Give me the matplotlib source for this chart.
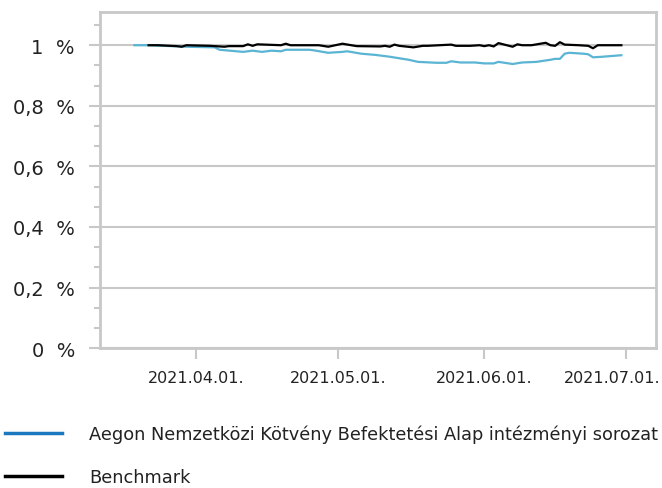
import matplotlib.pyplot as plt
from matplotlib.lines import Line2D
from matplotlib.ticker import MultipleLocator, FixedFormatter, FixedLocator
from matplotlib.transforms import ScaledTranslation
import pandas as pd

# Fund (intézményi sorozat) values
fund_dates = ['2021-03-19', '2021-03-22', '2021-03-30', '2021-04-05', '2021-04-06',
              '2021-04-11', '2021-04-13', '2021-04-15', '2021-04-17', '2021-04-19',
              '2021-04-20', '2021-04-25', '2021-04-26', '2021-04-29', '2021-05-02',
              '2021-05-03', '2021-05-06', '2021-05-09', '2021-05-12', '2021-05-16',
              '2021-05-18', '2021-05-22', '2021-05-24', '2021-05-25', '2021-05-27',
              '2021-05-30', '2021-06-01', '2021-06-03', '2021-06-04', '2021-06-07',
              '2021-06-09', '2021-06-12', '2021-06-15', '2021-06-16', '2021-06-17',
              '2021-06-18', '2021-06-19', '2021-06-22', '2021-06-23', '2021-06-24',
              '2021-06-26', '2021-06-30']
fund_values = [1.000, 1.000, 0.995, 0.993, 0.985,
               0.978, 0.982, 0.978, 0.982, 0.980,
               0.985, 0.985, 0.983, 0.975, 0.978,
               0.980, 0.972, 0.968, 0.962, 0.952,
               0.945, 0.942, 0.942, 0.947, 0.943,
               0.943, 0.940, 0.940, 0.945, 0.938,
               0.943, 0.945, 0.952, 0.955, 0.955,
               0.972, 0.975, 0.972, 0.970, 0.960,
               0.962, 0.967]

# Benchmark values
bench_dates = ['2021-03-22', '2021-03-24', '2021-03-28', '2021-03-29', '2021-03-30',
               '2021-04-04', '2021-04-07', '2021-04-08', '2021-04-11', '2021-04-12',
               '2021-04-13', '2021-04-14', '2021-04-19', '2021-04-20', '2021-04-21',
               '2021-04-27', '2021-04-29', '2021-05-02', '2021-05-05', '2021-05-10',
               '2021-05-11', '2021-05-12', '2021-05-13', '2021-05-14', '2021-05-17',
               '2021-05-19', '2021-05-20', '2021-05-25', '2021-05-26', '2021-05-29',
               '2021-05-31', '2021-06-01', '2021-06-02', '2021-06-03', '2021-06-04',
               '2021-06-07', '2021-06-08', '2021-06-09', '2021-06-11', '2021-06-14',
               '2021-06-15', '2021-06-16', '2021-06-17', '2021-06-18', '2021-06-21',
               '2021-06-23', '2021-06-24', '2021-06-25', '2021-06-30']
bench_values = [1.000, 1.000, 0.997, 0.995, 1.000,
                0.998, 0.995, 0.997, 0.997, 1.003,
                0.998, 1.003, 1.000, 1.005, 1.000,
                1.000, 0.995, 1.005, 0.997, 0.996,
                0.998, 0.995, 1.002, 0.998, 0.993,
                0.998, 0.998, 1.002, 0.998, 0.998,
                1.000, 0.997, 1.000, 0.996, 1.007,
                0.995, 1.003, 1.000, 1.000, 1.008,
                1.000, 0.998, 1.010, 1.002, 1.000,
                0.998, 0.990, 1.000, 1.000]

y_ticks = [0, 0.2, 0.4, 0.6, 0.8, 1.0]
y_labels = ['0  %', '0,2  %', '0,4  %', '0,6  %', '0,8  %', '1  %']
x_ticks = ['2021-04-01', '2021-05-01', '2021-06-01', '2021-07-01']
x_labels = ['2021.04.01.', '2021.05.01.', '2021.06.01.', '2021.07.01.']

fund_name = 'Aegon Nemzetközi Kötvény Befektetési Alap intézményi sorozat'
bench_name = 'Benchmark'

grey = '#c8c8c8'
fig = plt.figure(figsize=(6.62, 4.89), dpi=100)
ax = fig.add_axes([0.151, 0.286, 0.840, 0.687])

ax.plot(pd.to_datetime(fund_dates), fund_values, color='#5ab4d3', lw=1.6, zorder=3)
ax.plot(pd.to_datetime(bench_dates), bench_values, color='black', lw=1.6, zorder=4)

ax.set_ylim(0, 1.109)
ax.set_xlim(pd.Timestamp('2021-03-11 17:00'), pd.Timestamp('2021-07-07 08:00'))

ax.yaxis.set_major_locator(FixedLocator(y_ticks))
ax.yaxis.set_major_formatter(FixedFormatter(y_labels))
ax.yaxis.set_minor_locator(MultipleLocator(0.2 / 3))
ax.set_xticks(pd.to_datetime(x_ticks))
ax.set_xticklabels(x_labels)

ax.grid(axis='y', which='major', color=grey, lw=1.5)
ax.set_axisbelow(True)
for s in ax.spines.values():
    s.set_color(grey)
    s.set_linewidth(2)

ax.tick_params(axis='y', which='major', length=8, width=1.5, color=grey, pad=10,
               labelsize=14, labelcolor='#222222')
ax.tick_params(axis='y', which='minor', length=4, width=1.5, color=grey)
ax.tick_params(axis='x', which='major', length=8, width=1.5, color=grey, pad=8,
               labelsize=11.5, labelcolor='#222222')

# last date label is pushed left so it stays inside the picture
last = ax.get_xticklabels()[-1]
last.set_transform(last.get_transform() + ScaledTranslation(-14 / 100, 0, fig.dpi_scale_trans))

handles = [Line2D([], [], color='#1b78bf', lw=2.5), Line2D([], [], color='black', lw=2.5)]
fig.legend(handles, [fund_name, bench_name], loc='upper left',
           bbox_to_anchor=(0.0076, 0.129), frameon=False, fontsize=12.8,
           handlelength=3.2, handletextpad=1.55, labelspacing=1.4,
           borderaxespad=0, borderpad=0, labelcolor='#222222')

fig.savefig('out.png', dpi=100)
